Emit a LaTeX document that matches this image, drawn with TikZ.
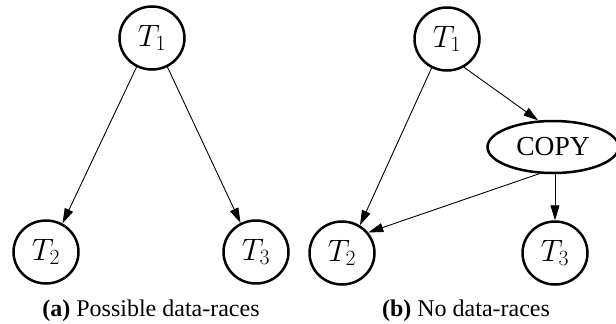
\RequirePackage{fix-cm}
\documentclass[tikz,border=0pt]{standalone}
\usepackage{fontspec}
\setmainfont{Liberation Serif}
\usetikzlibrary{arrows.meta,shapes.geometric}
\begin{document}
\begin{tikzpicture}[x=1pt,y=-1pt,
  tnode/.style={draw, ellipse, line width=2.5pt, minimum width=65pt, minimum height=63pt, inner sep=0pt,
    font=\fontsize{31}{36}\selectfont},
  copynode/.style={draw, ellipse, line width=2.5pt, minimum width=131pt, minimum height=52pt, inner sep=0pt,
    font=\rmfamily\fontsize{27.5}{32}\selectfont},
  edge/.style={line width=0.9pt, -{Triangle[length=15pt,width=9pt]}},
  caption/.style={anchor=base, font=\rmfamily\fontsize{24}{28}\selectfont, inner sep=0pt}]
\useasboundingbox (0,0) rectangle (616,324);
% (a)
\node[tnode] (T1a) at (152,38) {$T_1$};
\node[tnode] (T2a) at (46,252) {$T_2$};
\node[tnode] (T3a) at (256,252) {$T_3$};
\draw[edge] (T1a.-118) -- (T2a.60);
\draw[edge] (T1a.-62) -- (T3a.118);
\node[caption] (capa) at (151,316) {\textbf{(a)} Possible data-races};
% (b)
\node[tnode] (T1b) at (447,39) {$T_1$};
\node[copynode] (COPY) at (553,147) {COPY};
\node[tnode] (T2b) at (342,253) {$T_2$};
\node[tnode] (T3b) at (555,253) {$T_3$};
\draw[edge] (T1b.-59) -- (COPY.119);
\draw[edge] (T1b.-118) -- (T2b.57);
\draw[edge] (COPY.-117) -- (T2b.38);
\draw[edge] (COPY.south -| T3b.north) -- (T3b.north);
\node[caption] (capb) at (466,316) {\textbf{(b)} No data-races};
\end{tikzpicture}
\end{document}
